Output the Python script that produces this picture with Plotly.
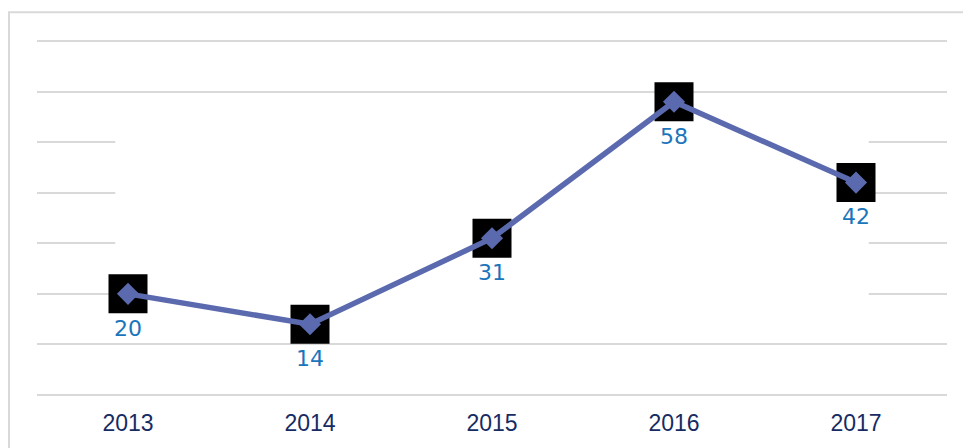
import plotly.graph_objects as go

years = ["2013", "2014", "2015", "2016", "2017"]
values = [20, 14, 31, 58, 42]
labels = ["20", "14", "31", "58", "42"]
y_ticks = [0, 10, 20, 30, 40, 50, 60, 70]

W, H = 963, 448
ML, MR, MT, MB = 37, 16, 40, 49
pw = W - ML - MR
ph = H - MT - MB

def px_x(p):
    return (p - ML) / pw

def px_y(p):
    return (H - MB - p) / ph

line_col = "#5B6AAE"

fig = go.Figure()
# black square backdrops behind markers
fig.add_trace(go.Scatter(
    x=years, y=values, mode="markers+text",
    marker=dict(symbol="square", size=39, color="#000000", line=dict(width=0)),
    text=labels, textposition="bottom center",
    textfont=dict(family="DejaVu Sans", size=22, color="#1B75BB"),
    hoverinfo="skip", showlegend=False, cliponaxis=False,
))
fig.add_trace(go.Scatter(
    x=years, y=values, mode="lines+markers",
    line=dict(color=line_col, width=5.5),
    marker=dict(symbol="diamond", size=17, color=line_col, line=dict(width=0)),
    hoverinfo="skip", showlegend=False, cliponaxis=False,
))

shapes = [
    # white mask hiding part of the gridlines
    dict(type="rect", xref="x", yref="y", x0=-0.07, x1=4.07, y0=15, y1=55,
         fillcolor="white", line=dict(width=0), layer="between"),
    # outer chart frame
    dict(type="rect", xref="paper", yref="paper",
         x0=px_x(9), x1=px_x(980), y0=px_y(470), y1=px_y(12),
         fillcolor="rgba(0,0,0,0)", line=dict(color="#D9D9D9", width=2), layer="above"),
]

fig.update_layout(
    width=W, height=H,
    margin=dict(l=ML, r=MR, t=MT, b=MB, pad=0),
    paper_bgcolor="white", plot_bgcolor="white",
    shapes=shapes,
    xaxis=dict(
        type="category", range=[-0.5, 4.5], showgrid=False, zeroline=False,
        showline=False, ticks="",
        tickfont=dict(family="Liberation Sans", size=23, color="#172B63"),
        ticklabelstandoff=12,
    ),
    yaxis=dict(
        range=[0, 70.2], tickvals=y_ticks, showticklabels=False,
        showgrid=True, gridcolor="#D9D9D9", gridwidth=2,
        zeroline=True, zerolinecolor="#D9D9D9", zerolinewidth=2,
        showline=False, ticks="",
    ),
)

fig.write_html(
    "out.html",
    config={"displayModeBar": False},
    post_script="document.body.style.margin='0px';",
)
